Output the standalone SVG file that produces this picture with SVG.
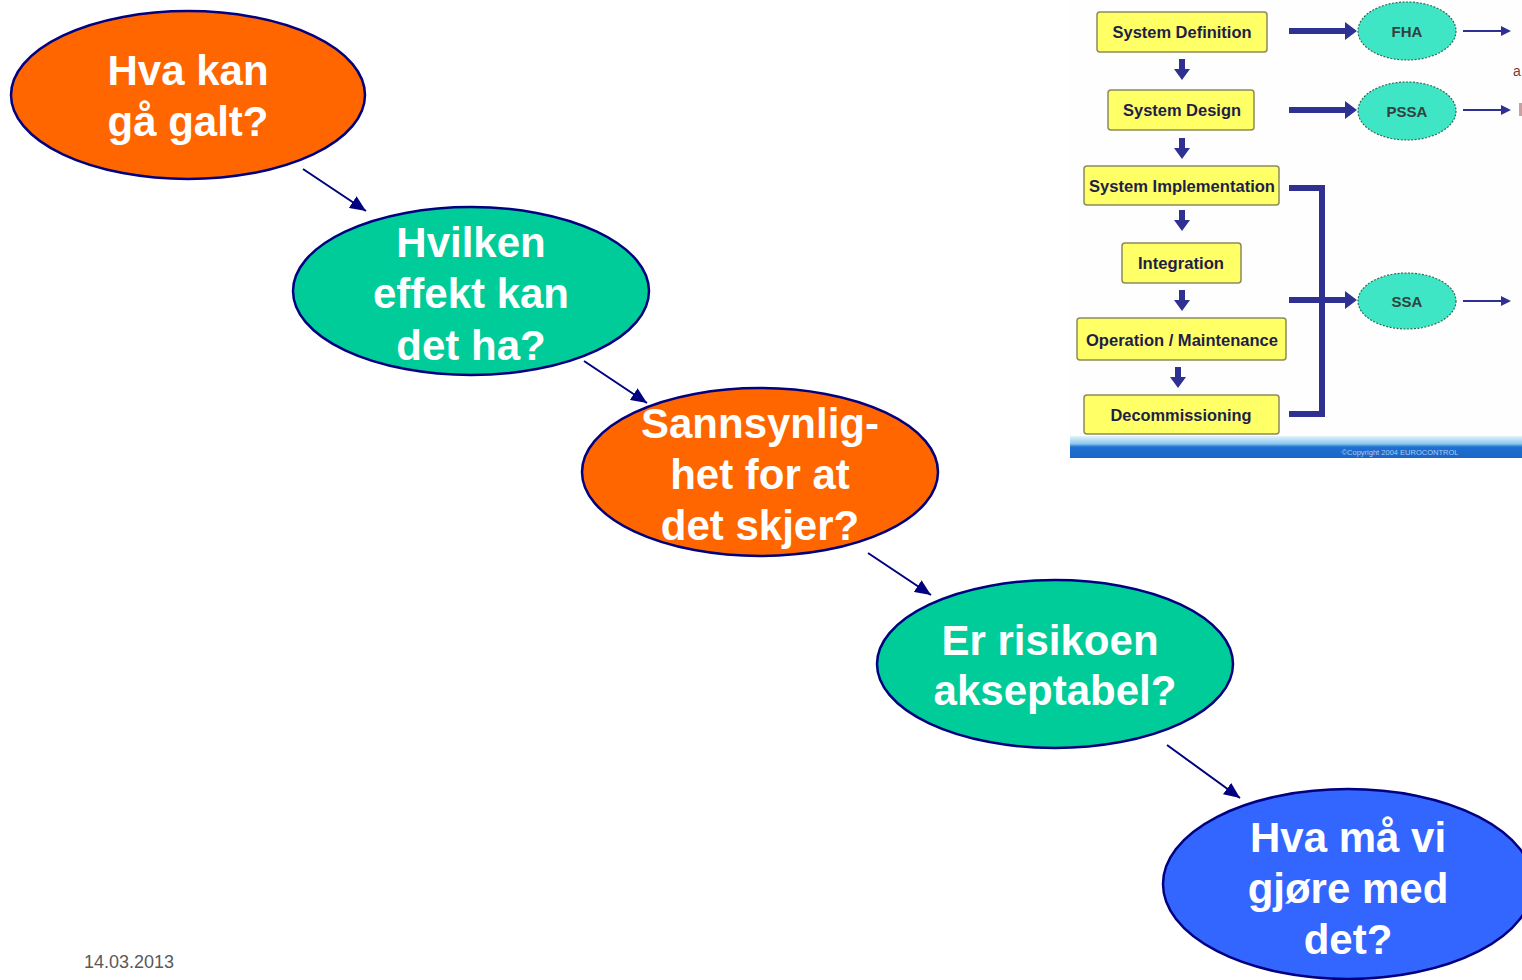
<svg xmlns="http://www.w3.org/2000/svg" width="1522" height="980" viewBox="0 0 1522 980">
<style>
.node{stroke:#000080;stroke-width:2.5}
.lbl{font-family:"Liberation Sans",Arial,sans-serif;font-weight:bold;font-size:42px;fill:#ffffff;text-anchor:middle}
.conn{stroke:#000080;stroke-width:2;fill:none}
.box{fill:#ffff66;stroke:#8c8a5c;stroke-width:1.5}
.btxt{font-family:"Liberation Sans",Arial,sans-serif;font-weight:bold;font-size:16px;fill:#1e1e46;text-anchor:middle}
.oval{fill:#3ee6c6;stroke:#2d6b55;stroke-width:1.2;stroke-dasharray:2 1.5}
.otxt{font-family:"Liberation Sans",Arial,sans-serif;font-weight:bold;font-size:15px;fill:#34403e;text-anchor:middle}
.thick{fill:#2e3192}
</style>
<defs>
<marker id="ah2" viewBox="0 0 10 10" refX="10" refY="5" markerWidth="16" markerHeight="14" markerUnits="userSpaceOnUse" orient="auto" preserveAspectRatio="none">
<path d="M0,0 L10,5 L0,10 z" fill="#000080"/>
</marker>
<linearGradient id="barg" x1="0" y1="0" x2="0" y2="1">
<stop offset="0" stop-color="#e4f4fb"/>
<stop offset="0.35" stop-color="#8cc8ee"/>
<stop offset="0.5" stop-color="#1d6fd1"/>
<stop offset="1" stop-color="#1a66c8"/>
</linearGradient>
</defs>

<g id="lifecycle-picture">
<rect x="1070" y="0" width="452" height="458" fill="#fefefe"/>
<rect x="1070" y="436" width="452" height="22" fill="url(#barg)"/>
<text x="1400" y="455" font-family="Liberation Sans,Arial,sans-serif" font-size="7.5" fill="#a9cdf2" text-anchor="middle">©Copyright 2004 EUROCONTROL</text>

<rect class="box" x="1097" y="12" width="170" height="40" rx="3"/>
<text class="btxt" x="1182" y="38" textLength="139" lengthAdjust="spacingAndGlyphs">System Definition</text>
<rect class="box" x="1108" y="90" width="146" height="40" rx="3"/>
<text class="btxt" x="1182" y="116" textLength="118" lengthAdjust="spacingAndGlyphs">System Design</text>
<rect class="box" x="1084" y="166" width="195" height="39" rx="3"/>
<text class="btxt" x="1182" y="192" textLength="186" lengthAdjust="spacingAndGlyphs">System Implementation</text>
<rect class="box" x="1122" y="243" width="119" height="40" rx="3"/>
<text class="btxt" x="1181" y="269" textLength="86" lengthAdjust="spacingAndGlyphs">Integration</text>
<rect class="box" x="1077" y="318" width="209" height="42" rx="3"/>
<text class="btxt" x="1182" y="346" textLength="192" lengthAdjust="spacingAndGlyphs">Operation / Maintenance</text>
<rect class="box" x="1084" y="395" width="195" height="39" rx="3"/>
<text class="btxt" x="1181" y="421" textLength="141" lengthAdjust="spacingAndGlyphs">Decommissioning</text>

<path class="thick" d="M1179,59 h6 v10 h5 l-8,11 l-8,-11 h5 z"/>
<path class="thick" d="M1179,138 h6 v10 h5 l-8,11 l-8,-11 h5 z"/>
<path class="thick" d="M1179,210 h6 v10 h5 l-8,11 l-8,-11 h5 z"/>
<path class="thick" d="M1179,290 h6 v10 h5 l-8,11 l-8,-11 h5 z"/>
<path class="thick" d="M1175,367 h6 v10 h5 l-8,11 l-8,-11 h5 z"/>

<path class="thick" d="M1289,28 h56 v-6 l12,9 l-12,9 v-6 h-56 z"/>
<path class="thick" d="M1289,107 h56 v-6 l12,9 l-12,9 v-6 h-56 z"/>
<path class="thick" d="M1289,297 h56 v-6 l12,9 l-12,9 v-6 h-56 z"/>
<polyline points="1289,188 1322,188 1322,414 1289,414" fill="none" stroke="#2e3192" stroke-width="6"/>

<path class="thick" d="M1463,30 h38 v-4 l10,5 l-10,5 v-4 h-38 z"/>
<path class="thick" d="M1463,109 h38 v-4 l10,5 l-10,5 v-4 h-38 z"/>
<path class="thick" d="M1463,300 h38 v-4 l10,5 l-10,5 v-4 h-38 z"/>

<ellipse class="oval" cx="1407" cy="31" rx="49" ry="29"/>
<text class="otxt" x="1407" y="37">FHA</text>
<ellipse class="oval" cx="1407" cy="111" rx="49" ry="29"/>
<text class="otxt" x="1407" y="117">PSSA</text>
<ellipse class="oval" cx="1407" cy="301" rx="49" ry="28"/>
<text class="otxt" x="1407" y="307">SSA</text>
<text x="1513" y="76" font-family="Liberation Sans,Arial,sans-serif" font-size="14" fill="#7a3a3a">a</text>
<rect x="1519" y="103" width="3" height="13" fill="#c9a0a0"/>
</g>

<g id="connectors">
<line class="conn" x1="303" y1="169" x2="366" y2="211" marker-end="url(#ah2)"/>
<line class="conn" x1="584" y1="361" x2="647" y2="403" marker-end="url(#ah2)"/>
<line class="conn" x1="868" y1="553" x2="931" y2="595" marker-end="url(#ah2)"/>
<line class="conn" x1="1167" y1="745" x2="1240" y2="798" marker-end="url(#ah2)"/>
</g>

<g id="n1">
<ellipse class="node" cx="188" cy="95" rx="177" ry="84" fill="#ff6600"/>
<text class="lbl" x="188" y="85">Hva kan</text>
<text class="lbl" x="188" y="136">gå galt?</text>
</g>
<g id="n2">
<ellipse class="node" cx="471" cy="291" rx="178" ry="84" fill="#00cc99"/>
<text class="lbl" x="471" y="257">Hvilken</text>
<text class="lbl" x="471" y="308">effekt kan</text>
<text class="lbl" x="471" y="360">det ha?</text>
</g>
<g id="n3">
<ellipse class="node" cx="760" cy="472" rx="178" ry="84" fill="#ff6600"/>
<text class="lbl" x="760" y="438">Sannsynlig-</text>
<text class="lbl" x="760" y="489">het for at</text>
<text class="lbl" x="760" y="540">det skjer?</text>
</g>
<g id="n4">
<ellipse class="node" cx="1055" cy="664" rx="178" ry="84" fill="#00cc99"/>
<text class="lbl" x="1050" y="655">Er risikoen</text>
<text class="lbl" x="1055" y="705">akseptabel?</text>
</g>
<g id="n5">
<ellipse class="node" cx="1348" cy="884" rx="185" ry="95" fill="#3366ff"/>
<text class="lbl" x="1348" y="852">Hva må vi</text>
<text class="lbl" x="1348" y="903">gjøre med</text>
<text class="lbl" x="1348" y="954">det?</text>
</g>

<text x="84" y="968" font-family="Liberation Sans,Arial,sans-serif" font-size="18" fill="#595959">14.03.2013</text>
</svg>
